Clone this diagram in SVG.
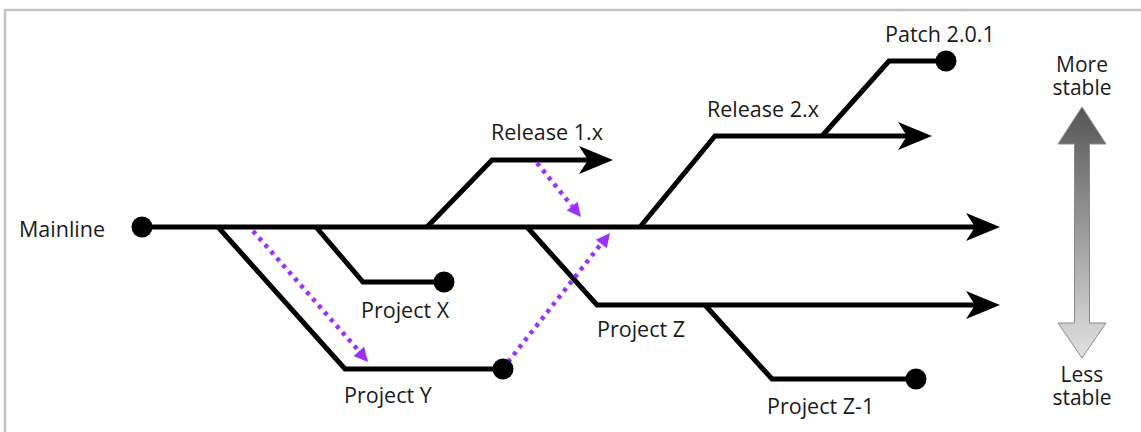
<svg xmlns="http://www.w3.org/2000/svg" width="1141" height="432" viewBox="0 0 1141 432">
<style>
.br{fill:none;stroke:#000;stroke-width:5;stroke-linejoin:miter;stroke-miterlimit:10}
.dot{fill:#000}
.ah{fill:#000}
.mg{fill:none;stroke:#9b30ff;stroke-width:4.5;stroke-dasharray:4 5}
.mh{fill:#9b30ff}
.lb{font-family:"Open Sans","Liberation Sans",sans-serif;font-size:21.5px;fill:#1a1a1a}
.st{font-family:"Open Sans","Liberation Sans",sans-serif;font-size:21px;fill:#1a1a1a}
</style>
<defs>
<linearGradient id="stab" x1="0" y1="0" x2="0" y2="1">
<stop offset="0" stop-color="#555"/>
<stop offset="1" stop-color="#e2e2e2"/>
</linearGradient>
</defs>
<rect x="0" y="0" width="1141" height="432" fill="#fff"/>
<rect x="5" y="10" width="1145" height="440" fill="none" stroke="#c4c4c4" stroke-width="2.5"/>
<g id="connectors">
<path class="br" d="M142,227 L976,227"/>
<polygon class="ah" points="1000,227 966,213 975,227 966,241"/>
<path class="br" d="M218,227 L345,369 L503,369"/>
<path class="br" d="M316,227 L363,282 L444,282"/>
<path class="br" d="M427,227 L492,160 L590,160"/>
<polygon class="ah" points="613,160 579,146 588,160 579,174"/>
<path class="br" d="M527,227 L597,305 L976,305"/>
<polygon class="ah" points="1000,305 966,291 975,305 966,319"/>
<path class="br" d="M705,305 L772,379 L916,379"/>
<path class="br" d="M640,227 L715,136 L908,136"/>
<polygon class="ah" points="932,136 898,122 907,136 898,150"/>
<path class="br" d="M822,136 L889,61 L946,61"/>
<path class="mg" d="M253,231 L359,351"/>
<polygon class="mh" points="368,362 353.5,356 364.1,346.8"/>
<path class="mg" d="M508,362 L601,244"/>
<polygon class="mh" points="610,233 606.8,248.3 595.8,239.7"/>
<path class="mg" d="M537,163 L572,206"/>
<polygon class="mh" points="581,217 566.7,210.6 577.6,201.8"/>
</g>
<g id="mainline"><circle class="dot" cx="142" cy="227" r="10.5"/><text class="lb" x="19" y="237">Mainline</text></g>
<g id="project-x"><circle class="dot" cx="444" cy="282" r="10.5"/><text class="lb" x="361" y="318">Project X</text></g>
<g id="project-y"><circle class="dot" cx="503" cy="369" r="10.5"/><text class="lb" x="344" y="403">Project Y</text></g>
<g id="release-1x"><text class="lb" x="491" y="140">Release 1.x</text></g>
<g id="project-z"><text class="lb" x="597" y="337">Project Z</text></g>
<g id="project-z1"><circle class="dot" cx="916" cy="379" r="10.5"/><text class="lb" x="767" y="414">Project Z-1</text></g>
<g id="release-2x"><text class="lb" x="707" y="117">Release 2.x</text></g>
<g id="patch-201"><circle class="dot" cx="946" cy="61" r="10.5"/><text class="lb" x="885" y="42">Patch 2.0.1</text></g>
<g id="stability">
<polygon points="1082,107 1106,144 1089.5,144 1089.5,323 1106,323 1082,358 1058,323 1074.5,323 1074.5,144 1058,144" fill="url(#stab)" stroke="#8a8a8a" stroke-width="1"/>
<text class="st" text-anchor="middle"><tspan x="1082" y="72">More</tspan><tspan x="1082" y="95">stable</tspan></text>
<text class="st" text-anchor="middle"><tspan x="1082" y="382">Less</tspan><tspan x="1082" y="405">stable</tspan></text>
</g>
</svg>
